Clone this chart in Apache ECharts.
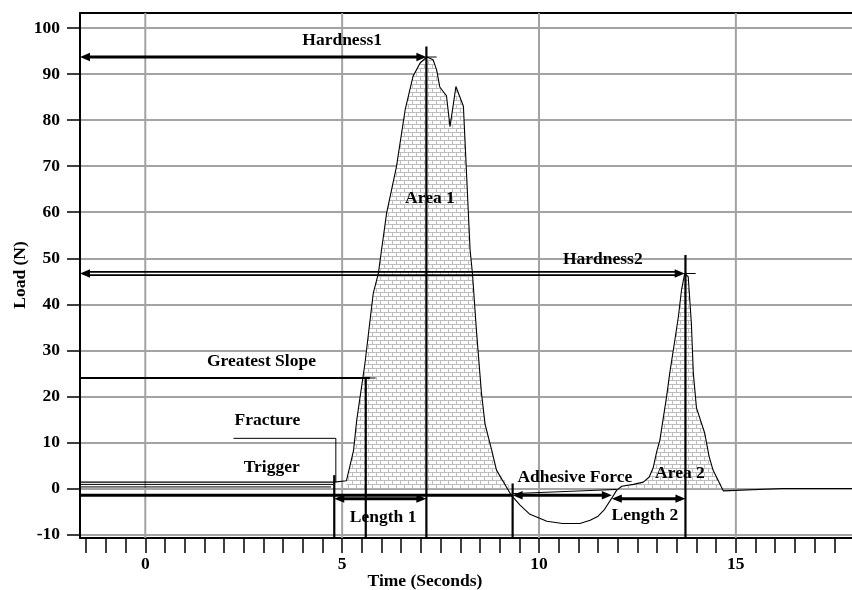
<!DOCTYPE html>
<html>
<head>
<meta charset="utf-8">
<title>Texture profile</title>
<script src="https://cdn.jsdelivr.net/npm/echarts@6/dist/echarts.min.js"></script>
<style>
  html, body { margin: 0; padding: 0; background: #fff; }
  #chart { width: 852px; height: 590px; }
</style>
</head>
<body>
<div id="chart"></div>
<script>
// ---- axis ranges and ticks ----
const T_MIN = -1.658, T_MAX = 17.95;
const N_MIN = -10.74, N_MAX = 103.26;
const timeLabels = [0, 5, 10, 15];
const timeTicks = [-1.5, -1, -0.5, 0, 0.5, 1, 1.5, 2, 2.5, 3, 3.5, 4, 4.5, 5, 5.5, 6, 6.5, 7, 7.5, 8,
  8.5, 9, 9.5, 10, 10.5, 11, 11.5, 12, 12.5, 13, 13.5, 14, 14.5, 15, 15.5, 16, 16.5, 17, 17.5];
const loadLabels = [-10, 0, 10, 20, 30, 40, 50, 60, 70, 80, 90, 100];

// ---- measured load curve ----
const curveTime = [-1.658, 4.80, 5.11, 5.20, 5.29, 5.37, 5.58, 5.79, 5.92, 6.00, 6.13, 6.38, 6.60, 6.80,
  6.98, 7.15, 7.31, 7.40, 7.48, 7.65, 7.74, 7.89, 8.08, 8.12, 8.25, 8.31, 8.41, 8.54, 8.63, 8.80, 8.92,
  9.30, 9.52, 9.77, 10.20, 10.60, 11.04, 11.30, 11.50, 11.65, 11.84, 11.97, 12.10, 12.40, 12.65, 12.80,
  12.90, 12.99, 13.07, 13.24, 13.32, 13.45, 13.54, 13.62, 13.70, 13.79, 13.87, 13.92, 14.00, 14.21,
  14.32, 14.42, 14.68, 16.20, 17.95];
const curveLoad = [1.4, 1.4, 1.7, 5.0, 8.3, 14.8, 27.2, 42.4, 46.7, 51.8, 59.8, 69.9, 82.2, 89.5,
  92.4, 93.7, 93.1, 90.9, 87.2, 85.3, 78.6, 87.3, 83.0, 75.7, 51.8, 46.7, 34.4, 20.6, 14.0, 8.3, 4.0,
  -1.5, -3.6, -5.6, -7.1, -7.6, -7.6, -6.9, -6.0, -4.7, -2.2, -0.4, 0.5, 0.9, 1.4, 2.5,
  4.5, 8.0, 10.5, 19.9, 25.0, 32.2, 37.3, 43.1, 46.7, 46.0, 35.9, 25.0, 17.5, 12.0,
  7.0, 4.0, -0.5, 0.0, 0.0];

// time spans of the two shaded work areas
const area1Span = [5.11, 9.30];
const area2Span = [11.97, 14.68];

// ---- annotation geometry (seconds, newtons) ----
// dimension arrows with heads at both ends: [t1, n1, t2, n2]
const dimensionArrows = [
  [T_MIN, 93.7, 7.14, 93.7],    // Hardness1
  [4.80, -2.2, 7.14, -2.2],     // Length 1
  [11.85, -2.2, 13.72, -2.2],   // Length 2
  [9.33, -1.45, 11.85, -1.45]   // Adhesive Force
];
const hardness2Arrow = [[T_MIN, 46.7, 13.70, 46.7]];
const heavyRules = [
  [T_MIN, -1.45, 9.33, -1.45]   // adhesive baseline
];
const markerRules = [
  [T_MIN, 24.0, 5.71, 24.0],    // greatest slope level
  [5.60, 24.0, 5.60, N_MIN],
  [7.14, 96.0, 7.14, N_MIN],
  [13.72, 50.7, 13.72, N_MIN],
  [4.80, 2.9, 4.80, N_MIN],
  [9.33, 1.1, 9.33, N_MIN]
];
const thinRules = [
  [7.14, 93.7, 7.40, 93.7],
  [13.70, 46.7, 13.98, 46.7],
  [5.71, 24.0, 5.85, 24.0],
  [2.24, 10.9, 4.84, 10.9],     // fracture
  [4.84, 10.9, 4.84, 1.4],
  [T_MIN, 0.9, 4.78, 0.9],      // trigger
  [T_MIN, 0.35, 4.72, 0.35],
  [9.33, -1.1, 11.97, -0.2]
];

const noteText = ['Hardness1', 'Hardness2', 'Area 1', 'Greatest Slope', 'Fracture', 'Trigger',
  'Length 1', 'Adhesive Force', 'Area 2', 'Length 2'];
const notePos = [[5.0, 97.2], [11.62, 49.8], [7.23, 62.9], [2.95, 27.5], [3.1, 14.85], [3.21, 4.5],
  [6.04, -6.2], [10.91, 2.45], [13.58, 3.26], [12.69, -5.8]];

// ---- helpers ----
const SERIF = '"Liberation Serif", "Times New Roman", serif';
const TEXT_FONT = 'bold 17.5px ' + SERIF;
const curve = curveTime.map((t, i) => [t, curveLoad[i]]);

function spanPoints(span) {
  return curve.filter(p => p[0] >= span[0] && p[0] <= span[1]).map(p => [p[0], Math.max(p[1], 0)]);
}

function brickCanvas() {
  const c = document.createElement('canvas');
  c.width = 8; c.height = 8;
  const g = c.getContext('2d');
  g.fillStyle = '#ffffff';
  g.fillRect(0, 0, 8, 8);
  g.fillStyle = '#bdbdbd';
  g.fillRect(0, 0, 8, 1);
  g.fillRect(0, 4, 8, 1);
  g.fillRect(0, 0, 1, 4);
  g.fillRect(4, 4, 1, 4);
  return c;
}

function arrowHead(tip, from, len, half) {
  const dx = tip[0] - from[0], dy = tip[1] - from[1];
  const d = Math.hypot(dx, dy) || 1;
  const ux = dx / d, uy = dy / d;
  const bx = tip[0] - ux * len, by = tip[1] - uy * len;
  return {
    type: 'polygon',
    shape: { points: [[tip[0], tip[1]], [bx - uy * half, by + ux * half], [bx + uy * half, by - ux * half]] },
    style: { fill: '#000' }
  };
}

function ruleRenderer(width) {
  return function (params, api) {
    const a = api.coord([api.value(0), api.value(1)]);
    const b = api.coord([api.value(2), api.value(3)]);
    return {
      type: 'line',
      shape: { x1: a[0], y1: a[1], x2: b[0], y2: b[1] },
      style: { stroke: '#000', lineWidth: width }
    };
  };
}

function arrowRenderer(width, doubled) {
  return function (params, api) {
    const a = api.coord([api.value(0), api.value(1)]);
    const b = api.coord([api.value(2), api.value(3)]);
    const len = 10, half = 4.2;
    const d = Math.hypot(b[0] - a[0], b[1] - a[1]) || 1;
    const ux = (b[0] - a[0]) / d, uy = (b[1] - a[1]) / d;
    const s = [a[0] + ux * len * 0.6, a[1] + uy * len * 0.6];
    const e = [b[0] - ux * len * 0.6, b[1] - uy * len * 0.6];
    const children = [];
    const offsets = doubled ? [-1.6, 1.6] : [0];
    offsets.forEach(o => {
      children.push({
        type: 'line',
        shape: { x1: s[0] - uy * o, y1: s[1] + ux * o, x2: e[0] - uy * o, y2: e[1] + ux * o },
        style: { stroke: '#000', lineWidth: doubled ? 1.7 : width }
      });
    });
    children.push(arrowHead(a, b, len, half), arrowHead(b, a, len, half));
    return { type: 'group', children };
  };
}

function gridRenderer(params, api) {
  const cs = params.coordSys;
  const x = api.coord([api.value(0), 0])[0];
  return {
    type: 'line',
    shape: { x1: x, y1: cs.y, x2: x, y2: cs.y + cs.height },
    style: { stroke: '#a3a3a3', lineWidth: 2 }
  };
}

function noteRenderer(params, api) {
  const p = api.coord([api.value(0), api.value(1)]);
  return {
    type: 'text',
    x: p[0], y: p[1],
    style: { text: noteText[params.dataIndex], font: TEXT_FONT, fill: '#000', align: 'center', verticalAlign: 'middle' }
  };
}

const brickFill = { image: brickCanvas(), repeat: 'repeat' };
const labelFont = { fontFamily: SERIF, fontWeight: 'bold', fontSize: 17.5, color: '#000' };

const chart = echarts.init(document.getElementById('chart'));
chart.setOption({
  animation: false,
  backgroundColor: '#fff',
  grid: { left: 80, right: 0, top: 13, bottom: 52 },
  xAxis: [{
    type: 'value', min: T_MIN, max: T_MAX,
    axisLine: { show: true, onZero: false, lineStyle: { color: '#000', width: 2 } },
    axisTick: { show: true, length: 15, customValues: timeTicks, lineStyle: { color: '#000', width: 1.5 } },
    axisLabel: Object.assign({ customValues: timeLabels, margin: 17 }, labelFont),
    splitLine: { show: false }
  }, {
    type: 'value', position: 'top', min: T_MIN, max: T_MAX,
    axisLine: { show: true, onZero: false, lineStyle: { color: '#000', width: 2 } },
    axisTick: { show: false }, axisLabel: { show: false }, splitLine: { show: false }
  }],
  yAxis: {
    type: 'value', min: N_MIN, max: N_MAX,
    axisLine: { show: true, onZero: false, lineStyle: { color: '#000', width: 2 } },
    axisTick: { show: true, length: 13, customValues: loadLabels, lineStyle: { color: '#000', width: 1.5 } },
    axisLabel: Object.assign({ customValues: loadLabels, margin: 20 }, labelFont),
    splitLine: { show: true, lineStyle: { color: '#a3a3a3', width: 2 } }
  },
  graphic: [
    { type: 'text', x: 425, y: 581, style: { text: 'Time (Seconds)', font: TEXT_FONT, fill: '#000', align: 'center', verticalAlign: 'middle' } },
    { type: 'text', x: 20, y: 275, rotation: Math.PI / 2, style: { text: 'Load (N)', font: TEXT_FONT, fill: '#000', align: 'center', verticalAlign: 'middle' } }
  ],
  series: [
    { type: 'custom', name: 'timeGrid', renderItem: gridRenderer, data: timeLabels.map(v => [v]), z: 1, silent: true },
    { type: 'line', name: 'Area 1', data: spanPoints(area1Span), showSymbol: false, symbol: 'none',
      lineStyle: { width: 0, opacity: 0 }, areaStyle: { color: brickFill, opacity: 1, origin: 0 }, z: 2, silent: true },
    { type: 'line', name: 'Area 2', data: spanPoints(area2Span), showSymbol: false, symbol: 'none',
      lineStyle: { width: 0, opacity: 0 }, areaStyle: { color: brickFill, opacity: 1, origin: 0 }, z: 2, silent: true },
    { type: 'line', name: 'Load', data: curve, showSymbol: false, symbol: 'none',
      lineStyle: { color: '#000', width: 1.1 }, z: 3, silent: true },
    { type: 'custom', renderItem: ruleRenderer(1), data: thinRules, encode: { x: [0, 2], y: [1, 3] }, z: 4, silent: true },
    { type: 'custom', renderItem: ruleRenderer(2.2), data: markerRules, encode: { x: [0, 2], y: [1, 3] }, z: 4, silent: true },
    { type: 'custom', renderItem: ruleRenderer(3), data: heavyRules, encode: { x: [0, 2], y: [1, 3] }, z: 4, silent: true },
    { type: 'custom', renderItem: arrowRenderer(3, false), data: dimensionArrows, encode: { x: [0, 2], y: [1, 3] }, z: 5, silent: true },
    { type: 'custom', renderItem: arrowRenderer(3, true), data: hardness2Arrow, encode: { x: [0, 2], y: [1, 3] }, z: 5, silent: true },
    { type: 'custom', name: 'notes', renderItem: noteRenderer, data: notePos, encode: { x: 0, y: 1 }, z: 6, silent: true }
  ]
});
</script>
</body>
</html>
